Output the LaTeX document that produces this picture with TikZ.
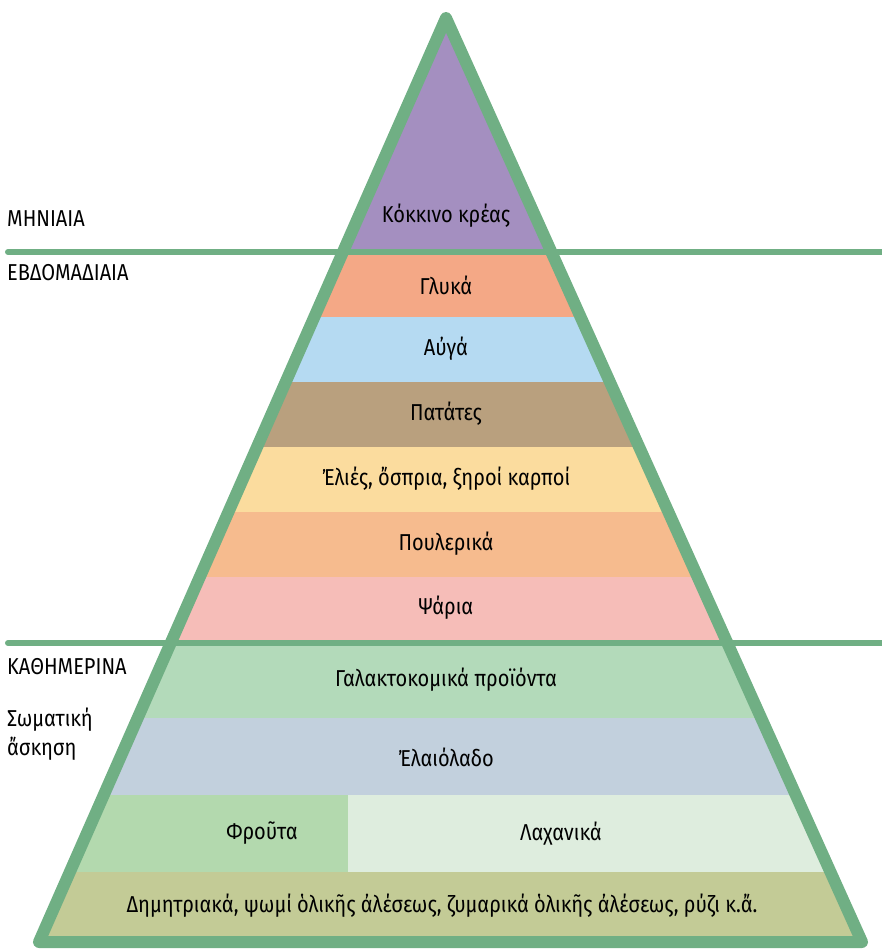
\documentclass[tikz,border=0pt]{standalone}
\usepackage{fontspec}
\setmainfont[FakeStretch=0.87]{Fira Sans}
\usepackage{tikz}
\usetikzlibrary{positioning}
\definecolor{pyrgreen}{HTML}{70AF84}
\definecolor{cmeat}{HTML}{A48FC0}
\definecolor{csweet}{HTML}{F4A886}
\definecolor{cegg}{HTML}{B5DAF2}
\definecolor{cpotato}{HTML}{B9A07E}
\definecolor{colive}{HTML}{FBDC9E}
\definecolor{cpoultry}{HTML}{F6BB8E}
\definecolor{cfish}{HTML}{F6BDB8}
\definecolor{cdairy}{HTML}{B3DABA}
\definecolor{coil}{HTML}{C2D0DD}
\definecolor{cfruit}{HTML}{B3D9AE}
\definecolor{cveg}{HTML}{DEEDDE}
\definecolor{cgrain}{HTML}{C3CB96}

\begin{document}
\begin{tikzpicture}[x=1pt, y=-1pt,
    every node/.style={font=\fontsize{23}{25}\selectfont, inner sep=1pt},
    foodlbl/.style={anchor=center},
    freqlbl/.style={anchor=west},
    rim/.style={draw=pyrgreen, line width=12pt, line join=round},
    divider/.style={draw=pyrgreen, line width=6pt, line cap=round}]
    \useasboundingbox (0,0) rectangle (882,951);

    % Bands of the pyramid
    \begin{scope}
      \clip (446,18) -- (862,942) -- (39,942) -- cycle;
      \fill[cmeat]    (0,0)   rectangle (882,252);
      \fill[csweet]   (0,252) rectangle (882,317);
      \fill[cegg]     (0,317) rectangle (882,382);
      \fill[cpotato]  (0,382) rectangle (882,447);
      \fill[colive]   (0,447) rectangle (882,512);
      \fill[cpoultry] (0,512) rectangle (882,577);
      \fill[cfish]    (0,577) rectangle (882,643);
      \fill[cdairy]   (0,643) rectangle (882,718);
      \fill[coil]     (0,718) rectangle (882,795);
      \fill[cfruit]   (0,795) rectangle (348,872);
      \fill[cveg]     (348,795) rectangle (882,872);
      \fill[cgrain]   (0,872) rectangle (882,951);
    \end{scope}

    % Outline and dividers
    \draw[rim] (446,18) -- (862,942) -- (39,942) -- cycle;
    \coordinate (d1l) at (8,252);
    \coordinate (d1r) at (888,252);
    \coordinate (d2l) at (8,643);
    \coordinate (d2r) at (888,643);
    \draw[divider] (d1l) -- (d1r);
    \draw[divider] (d2l) -- (d2r);

    % Food groups
    \node[foodlbl] (meat)    at (446,216) {Κόκκινο κρέας};
    \node[foodlbl] (sweet)   at (446,285) {Γλυκά};
    \node[foodlbl] (egg)     at (446,349) {Αὐγά};
    \node[foodlbl] (potato)  at (446,414) {Πατάτες};
    \node[foodlbl] (olive)   at (446,479) {Ἐλιές, ὄσπρια, ξηροί καρποί};
    \node[foodlbl] (poultry) at (446,544) {Πουλερικά};
    \node[foodlbl] (fish)    at (446,608) {Ψάρια};
    \node[foodlbl] (dairy)   at (446,680) {Γαλακτοκομικά προϊόντα};
    \node[foodlbl] (oil)     at (446,757) {Ἐλαιόλαδο};
    \node[foodlbl] (fruit)   at (262,833) {Φροῦτα};
    \node[foodlbl] (veg)     at (561,834) {Λαχανικά};
    \node[foodlbl] (grain)   at (442,906) {Δημητριακά, ψωμί ὁλικῆς ἀλέσεως, ζυμαρικά ὁλικῆς ἀλέσεως, ρύζι κ.ἄ.};

    % Frequency labels
    \node[freqlbl] (monthly) at (6,219) {ΜΗΝΙΑΙΑ};
    \node[freqlbl] (weekly)  at (6,273) {ΕΒΔΟΜΑΔΙΑΙΑ};
    \node[freqlbl] (daily)   at (6,667) {ΚΑΘΗΜΕΡΙΝΑ};
    \node[freqlbl] (sport)   at (6,720) {Σωματική};
    \node[freqlbl, below=3pt of sport.south west, anchor=north west] (sport2) {ἄσκηση};
\end{tikzpicture}
\end{document}
